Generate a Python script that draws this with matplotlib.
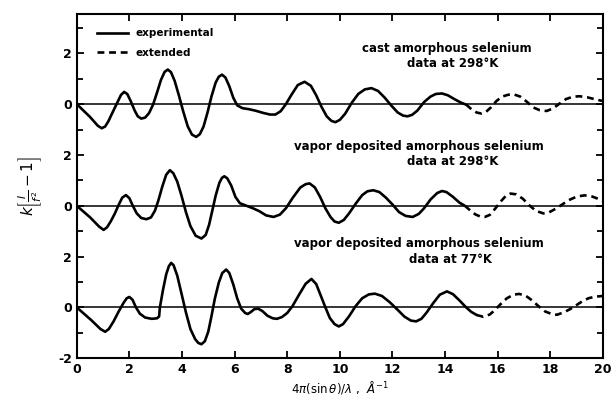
import matplotlib
matplotlib.use('Agg')
import matplotlib.pyplot as plt
from matplotlib.ticker import MultipleLocator, FixedLocator

# curves, y relative to each curve's own zero line
# top: cast amorphous selenium, 298 K  (zero line drawn at 8)
top_x = [0, 0.5, 0.8, 0.95, 1.08, 1.2, 1.35, 1.55, 1.68, 1.8, 1.92, 2.05, 2.2, 2.32, 2.45, 2.6,
         2.75, 2.9, 3.05, 3.2, 3.34, 3.46, 3.58, 3.72, 3.88, 4.05, 4.22, 4.38, 4.54, 4.68, 4.82,
         4.97, 5.12, 5.28, 5.4, 5.52, 5.65, 5.8, 5.95, 6.1, 6.3, 6.55, 6.8, 7.1, 7.35, 7.55,
         7.75, 7.95, 8.15, 8.4, 8.66, 8.9, 9.1, 9.3, 9.5, 9.68, 9.83, 10.0, 10.2, 10.45, 10.7,
         10.95, 11.2, 11.45, 11.7, 11.95, 12.2, 12.4, 12.57, 12.75, 12.95, 13.2, 13.45, 13.65,
         13.88, 14.1, 14.35, 14.6, 14.8]
top_y = [0, -0.5, -0.85, -0.95, -0.88, -0.68, -0.35, 0.08, 0.36, 0.48, 0.4, 0.12, -0.25, -0.48,
         -0.57, -0.53, -0.35, -0.02, 0.45, 0.95, 1.27, 1.36, 1.26, 0.92, 0.35, -0.3, -0.88,
         -1.2, -1.29, -1.18, -0.88, -0.33, 0.3, 0.85, 1.08, 1.16, 1.05, 0.7, 0.25, -0.05, -0.16,
         -0.2, -0.26, -0.35, -0.41, -0.41, -0.28, 0.0, 0.35, 0.75, 0.88, 0.72, 0.35, -0.1,
         -0.48, -0.66, -0.71, -0.62, -0.38, 0.05, 0.4, 0.58, 0.63, 0.52, 0.26, -0.05, -0.33,
         -0.45, -0.48, -0.42, -0.25, 0.08, 0.3, 0.4, 0.42, 0.35, 0.2, 0.06, -0.02]
top_ext_x = [14.8, 15.0, 15.2, 15.38, 15.55, 15.75, 15.95, 16.15, 16.4, 16.62, 16.85, 17.1,
             17.35, 17.6, 17.86, 18.1, 18.35, 18.6, 18.85, 19.1, 19.4, 19.7, 20.0]
top_ext_y = [-0.02, -0.2, -0.33, -0.37, -0.31, -0.12, 0.12, 0.29, 0.37, 0.38, 0.3, 0.1, -0.13,
             -0.24, -0.27, -0.17, 0.02, 0.2, 0.29, 0.31, 0.27, 0.19, 0.12]

# middle: vapor deposited, 298 K  (zero line drawn at 4)
mid_x = [0, 0.5, 0.85, 1.02, 1.15, 1.3, 1.45, 1.6, 1.73, 1.87, 2.0, 2.13, 2.28, 2.45, 2.65,
         2.82, 2.97, 3.1, 3.25, 3.4, 3.54, 3.67, 3.82, 3.98, 4.15, 4.32, 4.52, 4.74, 4.9, 5.03,
         5.15, 5.28, 5.42, 5.52, 5.61, 5.72, 5.87, 6.03, 6.2, 6.45, 6.7, 6.95, 7.2, 7.48, 7.72,
         7.95, 8.2, 8.5, 8.7, 8.85, 9.05, 9.25, 9.45, 9.65, 9.8, 9.96, 10.15, 10.35, 10.6,
         10.85, 11.05, 11.27, 11.5, 11.75, 12.0, 12.25, 12.5, 12.77, 13.0, 13.2, 13.45, 13.7,
         13.88, 14.05, 14.3, 14.55, 14.75]
mid_y = [0, -0.45, -0.82, -0.95, -0.85, -0.6, -0.3, 0.05, 0.32, 0.42, 0.3, 0.0, -0.3, -0.48,
         -0.53, -0.46, -0.2, 0.2, 0.75, 1.22, 1.4, 1.28, 0.95, 0.4, -0.25, -0.8, -1.18, -1.29,
         -1.15, -0.75, -0.2, 0.4, 0.9, 1.1, 1.16, 1.08, 0.8, 0.35, 0.1, 0.0, -0.1, -0.22, -0.38,
         -0.44, -0.35, -0.1, 0.3, 0.72, 0.85, 0.88, 0.72, 0.35, -0.1, -0.45, -0.62, -0.67,
         -0.56, -0.3, 0.08, 0.42, 0.57, 0.61, 0.54, 0.32, 0.05, -0.25, -0.4, -0.44, -0.32,
         -0.1, 0.25, 0.5, 0.58, 0.54, 0.35, 0.12, 0.0]
mid_ext_x = [14.75, 14.95, 15.15, 15.35, 15.51, 15.7, 15.9, 16.1, 16.3, 16.49, 16.7, 16.95,
             17.2, 17.45, 17.73, 17.95, 18.2, 18.45, 18.7, 19.0, 19.3, 19.6, 20.0]
mid_ext_y = [0.0, -0.18, -0.34, -0.43, -0.44, -0.36, -0.12, 0.15, 0.38, 0.48, 0.45, 0.28,
             0.02, -0.2, -0.3, -0.26, -0.12, 0.05, 0.22, 0.36, 0.41, 0.36, 0.2]

# bottom: vapor deposited, 77 K  (zero line drawn at 0)
bot_x = [0, 0.55, 0.9, 1.08, 1.22, 1.4, 1.6, 1.78, 1.9, 2.0, 2.12, 2.25, 2.4, 2.6, 2.85, 3.05,
         3.13, 3.16, 3.28, 3.4, 3.5, 3.59, 3.68, 3.82, 3.98, 4.15, 4.32, 4.5, 4.62, 4.74, 4.87,
         5.0, 5.12, 5.25, 5.4, 5.53, 5.68, 5.8, 5.95, 6.1, 6.25, 6.4, 6.5, 6.62, 6.75, 6.89,
         7.05, 7.25, 7.45, 7.61, 7.8, 8.0, 8.2, 8.45, 8.7, 8.92, 9.1, 9.28, 9.45, 9.62, 9.8,
         9.96, 10.12, 10.35, 10.6, 10.85, 11.1, 11.33, 11.6, 11.9, 12.2, 12.45, 12.7, 12.9,
         13.1, 13.3, 13.55, 13.8, 14.07, 14.3, 14.55, 14.8, 15.0, 15.2]
bot_y = [0, -0.5, -0.85, -0.96, -0.85, -0.55, -0.15, 0.18, 0.36, 0.41, 0.3, 0.0, -0.25, -0.4,
         -0.45, -0.43, -0.36, 0.0, 0.7, 1.3, 1.62, 1.75, 1.66, 1.25, 0.55, -0.2, -0.85, -1.25,
         -1.4, -1.45, -1.33, -0.95, -0.35, 0.35, 0.98, 1.35, 1.49, 1.35, 0.9, 0.35, -0.05,
         -0.22, -0.26, -0.18, -0.07, -0.05, -0.14, -0.33, -0.43, -0.45, -0.38, -0.22, 0.05, 0.5,
         0.93, 1.12, 0.92, 0.45, 0.0, -0.42, -0.66, -0.75, -0.66, -0.35, 0.05, 0.36, 0.51, 0.54,
         0.45, 0.2, -0.1, -0.36, -0.52, -0.55, -0.45, -0.2, 0.17, 0.5, 0.63, 0.52, 0.27, 0.0,
         -0.18, -0.3]
bot_ext_x = [15.2, 15.45, 15.7, 15.9, 16.1, 16.35, 16.6, 16.81, 17.05, 17.3, 17.55, 17.8, 18.05,
             18.25, 18.5, 18.75, 18.95, 19.2, 19.45, 19.7, 20.0]
bot_ext_y = [-0.3, -0.37, -0.28, -0.1, 0.12, 0.36, 0.5, 0.53, 0.47, 0.28, 0.05, -0.16, -0.26,
             -0.29, -0.2, -0.07, 0.06, 0.23, 0.36, 0.42, 0.45]

offsets = [8, 4, 0]
labels = [("cast amorphous selenium", "data at 298°K"),
          ("vapor deposited amorphous selenium", "data at 298°K"),
          ("vapor deposited amorphous selenium", "data at 77°K")]
ytick_vals = [-2, 0, 2, 4, 6, 8, 10]
ytick_text = ['-2', '0', '2', '0', '2', '0', '2']
xtick_vals = [0, 2, 4, 6, 8, 10, 12, 14, 16, 18, 20]

fig = plt.figure(figsize=(6.14, 3.98), dpi=100)
ax = fig.add_axes([0.125, 0.1, 0.857, 0.865])

dash = (0, (2.6, 1.8))
curves = [(top_x, top_y, top_ext_x, top_ext_y),
          (mid_x, mid_y, mid_ext_x, mid_ext_y),
          (bot_x, bot_y, bot_ext_x, bot_ext_y)]
for (cx, cy, ex, ey), off in zip(curves, offsets):
    ax.axhline(off, color='black', lw=1.1)
    ax.plot(cx, [v + off for v in cy], color='black', lw=1.9,
            solid_joinstyle='round', solid_capstyle='round')
    ax.plot(ex, [v + off for v in ey], color='black', lw=1.9, linestyle=dash)

# legend: solid vs dashed
ax.plot([], [], color='black', lw=1.9, label='experimental')
ax.plot([], [], color='black', lw=1.9, linestyle=dash, label='extended')
handles, names = ax.get_legend_handles_labels()
ax.legend(handles[-2:], names[-2:], loc='upper left', bbox_to_anchor=(0.02, 0.985),
          frameon=False, handlelength=3.0, handletextpad=0.7, labelspacing=0.9,
          prop={'size': 7.5, 'weight': 'bold'})

tfont = dict(fontsize=8.5, fontweight='bold', ha='center', va='center')
ax.text(14.05, 10.18, labels[0][0], **tfont)
ax.text(14.3, 9.6, labels[0][1], **tfont)
ax.text(13.0, 6.35, labels[1][0], **tfont)
ax.text(14.3, 5.74, labels[1][1], **tfont)
ax.text(13.0, 2.52, labels[2][0], **tfont)
ax.text(14.2, 1.88, labels[2][1], **tfont)

ax.set_xlim(0, 20)
ax.set_ylim(-2, 11.55)
ax.xaxis.set_major_locator(FixedLocator(xtick_vals))
ax.set_xticklabels([str(v) for v in xtick_vals], fontsize=9, fontweight='bold')
ax.yaxis.set_major_locator(FixedLocator(ytick_vals))
ax.set_yticklabels(ytick_text, fontsize=9, fontweight='bold')
ax.yaxis.set_minor_locator(MultipleLocator(1))
ax.tick_params(which='both', direction='in', top=True, right=True, width=1.3)
ax.tick_params(which='major', length=5)
ax.tick_params(which='minor', length=4)
for s in ax.spines.values():
    s.set_linewidth(1.5)

ax.set_xlabel(r'$4\pi(\sin\theta)/\lambda$ ,  $\AA^{-1}$', fontsize=8.5, labelpad=2)
ax.set_ylabel(r'$k\left[\frac{I}{f^{2}}-1\right]$', fontsize=11, labelpad=10)

fig.savefig('out.png', dpi=100)
